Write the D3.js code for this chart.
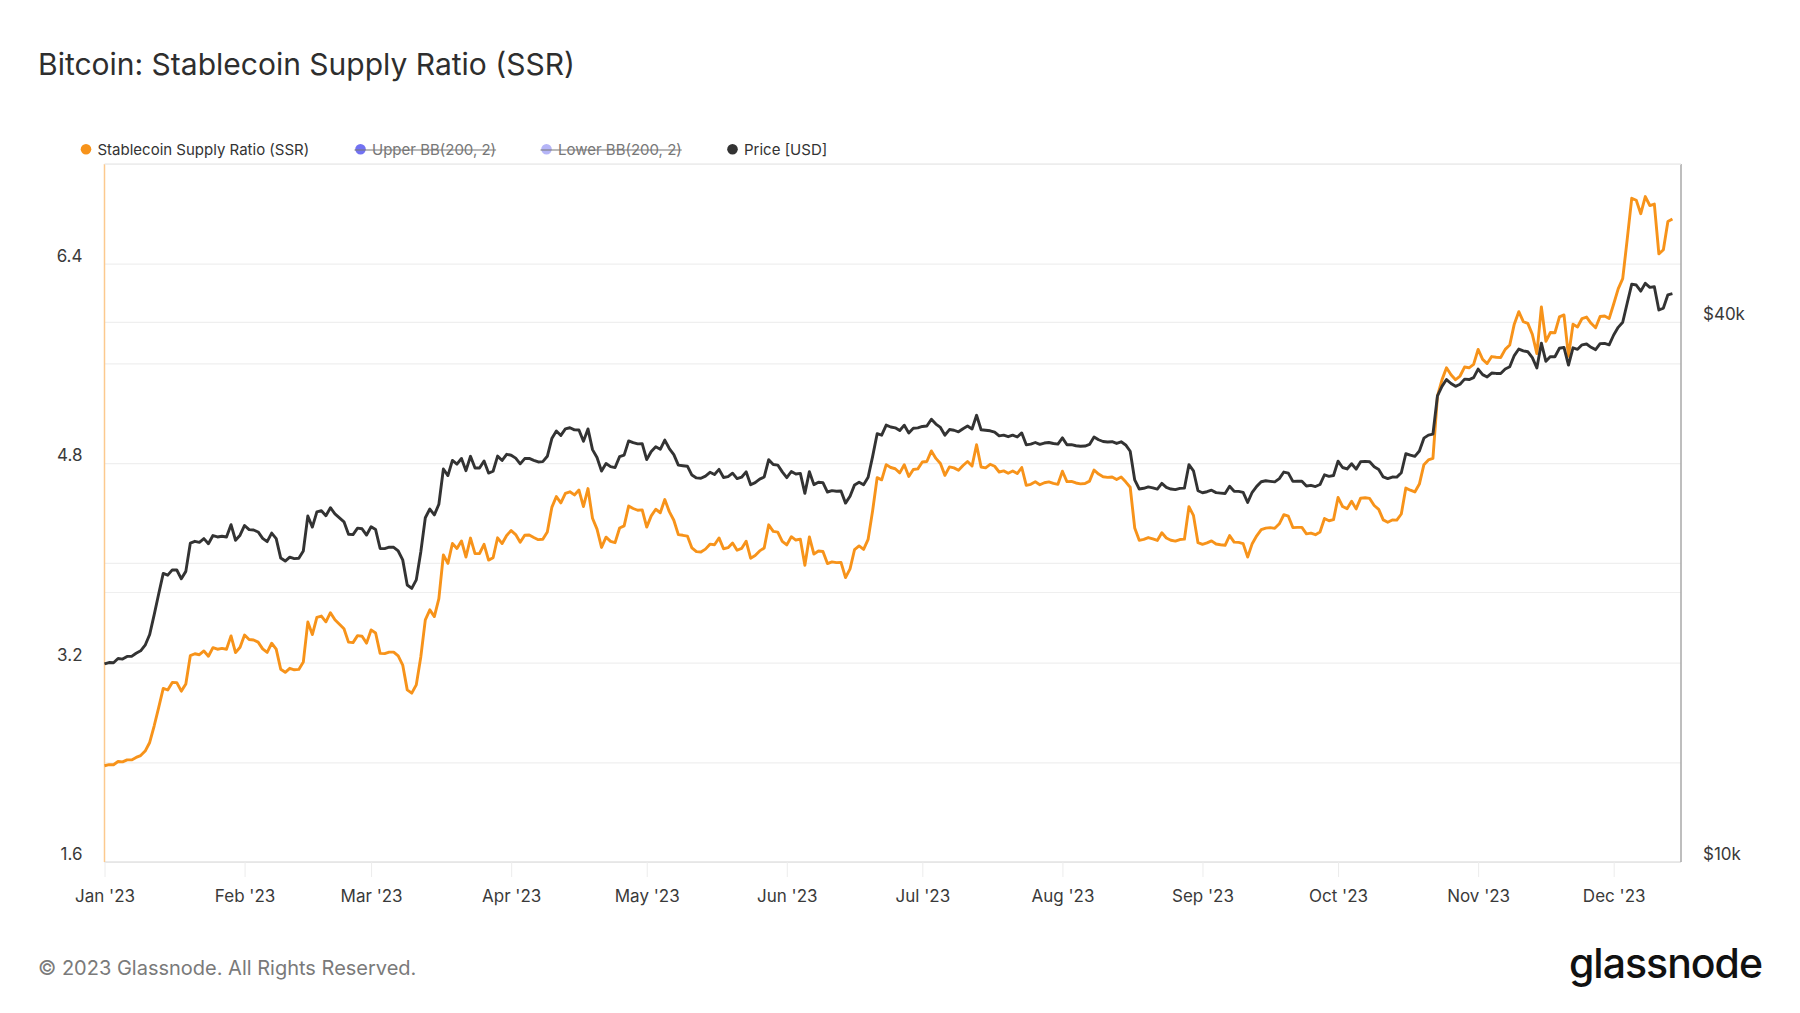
<!DOCTYPE html>
<html><head><meta charset="utf-8">
<script src="https://cdn.jsdelivr.net/npm/d3@7/dist/d3.min.js"></script>
<style>
body{margin:0;background:#fff;}
svg text{font-family:Inter,"Noto Sans",sans-serif;}
</style></head>
<body><svg id="chart" width="1800" height="1013"></svg>
<script>
const titleText = "Bitcoin: Stablecoin Supply Ratio (SSR)";
const footerText = "© 2023 Glassnode. All Rights Reserved.";
const startDate = "2023-01-01";
const ssrValues = [
2.372,2.381,2.380,2.406,2.403,2.419,2.419,2.439,2.454,2.490,2.559,2.693,2.841,2.993,2.980,3.040,3.039,2.971,3.028,3.256,3.271,3.263,3.293,3.251,3.320,3.307,3.314,3.307,3.414,3.280,3.323,
3.421,3.385,3.381,3.364,3.310,3.282,3.355,3.308,3.146,3.122,3.154,3.142,3.145,3.204,3.525,3.425,3.562,3.573,3.527,3.600,3.543,3.507,3.472,3.364,3.360,3.416,3.411,3.356,
3.462,3.437,3.274,3.272,3.284,3.284,3.253,3.180,2.981,2.955,3.021,3.245,3.542,3.623,3.569,3.713,4.064,3.996,4.155,4.115,4.176,4.047,4.199,4.074,4.075,4.149,4.022,4.041,4.201,4.155,4.220,
4.259,4.227,4.166,4.222,4.224,4.204,4.186,4.189,4.247,4.445,4.532,4.481,4.557,4.570,4.545,4.584,4.452,4.596,4.358,4.271,4.124,4.206,4.172,4.162,4.280,4.297,4.456,4.436,4.422,4.425,
4.287,4.377,4.430,4.402,4.508,4.411,4.342,4.226,4.221,4.215,4.120,4.090,4.087,4.110,4.150,4.145,4.200,4.113,4.122,4.159,4.101,4.116,4.174,4.037,4.059,4.096,4.119,4.305,4.253,4.247,4.173,
4.144,4.210,4.183,4.190,3.980,4.208,4.070,4.095,4.091,3.994,4.008,4.002,4.004,3.882,3.952,4.107,4.136,4.108,4.189,4.419,4.684,4.666,4.788,4.765,4.755,4.722,4.787,4.693,4.749,4.754,
4.809,4.813,4.898,4.838,4.797,4.702,4.770,4.762,4.743,4.781,4.813,4.777,4.948,4.769,4.762,4.791,4.775,4.729,4.738,4.719,4.737,4.716,4.765,4.622,4.630,4.650,4.627,4.643,4.650,4.638,4.630,
4.735,4.652,4.654,4.641,4.634,4.637,4.656,4.745,4.712,4.691,4.686,4.689,4.668,4.688,4.650,4.607,4.280,4.181,4.189,4.203,4.193,4.180,4.242,4.199,4.181,4.174,4.187,4.190,4.450,4.381,4.162,
4.149,4.160,4.176,4.151,4.145,4.141,4.219,4.166,4.164,4.154,4.046,4.154,4.217,4.267,4.279,4.283,4.277,4.313,4.386,4.374,4.283,4.285,4.285,4.233,4.239,4.226,4.248,4.356,4.338,4.347,
4.525,4.452,4.435,4.495,4.433,4.519,4.522,4.517,4.460,4.429,4.345,4.326,4.344,4.343,4.392,4.600,4.583,4.569,4.632,4.788,4.826,4.838,5.337,5.468,5.565,5.509,5.469,5.499,5.571,5.565,5.592,
5.712,5.632,5.599,5.655,5.650,5.648,5.713,5.748,5.915,6.015,5.935,5.921,5.833,5.679,6.053,5.777,5.848,5.846,5.974,5.989,5.658,5.914,5.892,5.960,5.972,5.922,5.886,5.977,5.981,5.960,
6.077,6.198,6.280,6.597,6.925,6.909,6.801,6.939,6.867,6.879,6.479,6.512,6.738,6.759
];
const priceValues = [
16625,16688,16680,16863,16836,16951,16955,17092,17196,17446,17934,18869,19909,20976,20881,21169,21161,20688,21086,22676,22777,22720,22934,22636,23117,23032,23078,23031,23774,22840,23139,
23723,23471,23449,23331,22955,22760,23264,22939,21819,21651,21870,21788,21808,22220,24307,23623,24565,24641,24327,24829,24436,24188,23947,23198,23175,23561,23522,23147,
23646,23475,22362,22353,22435,22429,22219,21718,20363,20187,20632,22163,24197,24746,24375,25052,27423,26965,28038,27767,28175,27307,28333,27493,27494,27994,27139,27268,28348,28033,28478,
28411,28199,27790,28168,28177,28044,27925,27947,28333,29653,30235,29892,30399,30485,30318,30315,29445,30397,28822,28245,27276,27817,27591,27525,28307,28422,29473,29340,29248,29268,
28091,28680,29031,28848,29538,28904,28454,27694,27658,27621,27000,26804,26784,26931,27192,27036,27398,26832,26890,27130,26753,26851,27225,26334,26477,26719,26868,28085,27745,27702,27219,
26819,27249,27075,27119,25760,27238,26345,26508,26480,25851,25940,25902,25918,25124,25576,26327,26510,26336,26851,28327,30027,29912,30695,30548,30480,30271,30689,30086,30445,30477,
30590,30620,31156,30777,30514,29909,30346,30292,30171,30414,30620,30391,31477,30334,30295,30249,30145,29856,29913,29792,29908,29771,30084,29177,29228,29354,29211,29315,29353,29281,29232,
29705,29186,29194,29113,29072,29088,29210,29769,29562,29430,29397,29415,29283,29409,29170,28702,26664,26050,26100,26189,26124,26041,26431,26163,26049,26009,26090,26107,27728,27298,25932,
25801,25869,25970,25812,25780,25753,26240,25905,25895,25832,25162,25833,26228,26539,26608,26568,26534,26754,27211,27132,26567,26580,26580,26256,26299,26217,26352,27021,26911,26967,
27983,27530,27429,27799,27415,27946,27968,27935,27584,27391,26873,26756,26862,26861,27159,28519,28415,28328,28719,29682,29918,29993,33086,33901,34502,34156,33909,34089,34538,34502,34667,
35437,34938,34732,35082,35049,35037,35443,35655,36693,37313,37138,37054,36502,35537,37880,36154,36596,36585,37386,37476,35813,37432,37289,37720,37796,37480,37254,37832,37854,37723,
38682,39450,39972,41991,44080,43977,43292,44170,43713,43789,41244,41450,42890,43023
];
const leftGridTicks = [1.6,2.4,3.2,4.0,4.8,5.6,6.4,7.2];
const leftLabelTicks = [1.6,3.2,4.8,6.4];
const rightGridTicks = [20000,40000];
const rightLabelTicks = [10000,40000];
const rightLabelText = ["$10k","$40k"];
const monthTicks = ["2023-01-01","2023-02-01","2023-03-01","2023-04-01","2023-05-01","2023-06-01","2023-07-01","2023-08-01","2023-09-01","2023-10-01","2023-11-01","2023-12-01"];
const legendNames = ["Stablecoin Supply Ratio (SSR)","Upper BB(200, 2)","Lower BB(200, 2)","Price [USD]"];
const legendColors = ["#F7931A","#7272F2","#B5B5F7","#333333"];
const legendHidden = [false,true,true,false];

const svg = d3.select("#chart");
const L = 104.5, R = 1681, T = 164, B = 862;
const day = 864e5;
const t0 = Date.parse(startDate + "T00:00:00Z");
const dates = ssrValues.map((_, i) => new Date(t0 + i * day));

const x = d3.scaleUtc().domain([new Date(t0), new Date(t0 + 348.9 * day)]).range([L, R]);
const yL = d3.scaleLinear().domain([1.6, 7.2]).range([B, T]);
const yR = d3.scaleLog().domain([10000, 60000]).range([B, T]);

// title
svg.append("text").attr("x", 38).attr("y", 75).attr("font-size", 30).attr("fill", "#2e2e2e").text(titleText);

// gridlines
const gl = svg.append("g").attr("transform", `translate(${L},0)`)
  .call(d3.axisLeft(yL).tickValues(leftGridTicks).tickSize(-(R - L)).tickFormat(""));
gl.select(".domain").remove();
gl.selectAll("line").attr("stroke", "#efefef").attr("stroke-width", 1.2);
const gr = svg.append("g").attr("transform", `translate(${L},0)`)
  .call(d3.axisLeft(yR).tickValues(rightGridTicks).tickSize(-(R - L)).tickFormat(""));
gr.select(".domain").remove();
gr.selectAll("line").attr("stroke", "#efefef").attr("stroke-width", 1.2);
svg.append("line").attr("x1", L).attr("x2", R).attr("y1", B).attr("y2", B).attr("stroke", "#e3e3e3").attr("stroke-width", 1.5);

// x axis
const xa = svg.append("g").attr("transform", `translate(0,${B})`)
  .call(d3.axisBottom(x).tickValues(monthTicks.map(d => new Date(d + "T00:00:00Z"))).tickSize(15).tickFormat(d3.utcFormat("%b '%y")));
xa.select(".domain").remove();
xa.selectAll("line").attr("stroke", "#ececec");
xa.selectAll("text").attr("font-size", 17).attr("fill", "#3a3a3a").attr("y", 40).attr("dy", 0)
  .style("font-family", "Inter, sans-serif");

// left axis labels
const la = svg.append("g").attr("transform", `translate(${L},0)`)
  .call(d3.axisLeft(yL).tickValues(leftLabelTicks).tickSize(0).tickPadding(22).tickFormat(d3.format(".1f")));
la.select(".domain").remove();
la.selectAll("text").attr("font-size", 17).attr("fill", "#3a3a3a").attr("dy", -2.5).style("font-family", "Inter, sans-serif");

// right axis labels
const ra = svg.append("g").attr("transform", `translate(${R},0)`)
  .call(d3.axisRight(yR).tickValues(rightLabelTicks).tickSize(0).tickPadding(22).tickFormat((d, i) => rightLabelText[i]));
ra.select(".domain").remove();
ra.selectAll("text").attr("font-size", 17).attr("fill", "#3a3a3a").attr("dy", -2.5).style("font-family", "Inter, sans-serif");

// axis lines
svg.append("line").attr("x1", L).attr("x2", L).attr("y1", T).attr("y2", B).attr("stroke", "#FCC98E").attr("stroke-width", 1.5);
svg.append("line").attr("x1", R).attr("x2", R).attr("y1", T).attr("y2", B).attr("stroke", "#a8a8a8").attr("stroke-width", 1.5);
svg.append("line").attr("x1", L).attr("x2", R).attr("y1", T).attr("y2", T).attr("stroke", "#ececec").attr("stroke-width", 1.5);

// lines
const ssrLine = d3.line().x((d, i) => x(dates[i])).y(d => yL(d));
const priceLine = d3.line().x((d, i) => x(dates[i])).y(d => yR(d));
svg.append("path").datum(ssrValues).attr("d", ssrLine).attr("fill", "none").attr("stroke", "#F7931A")
  .attr("stroke-width", 2.9).attr("stroke-linejoin", "round");
svg.append("path").datum(priceValues).attr("d", priceLine).attr("fill", "none").attr("stroke", "#333333")
  .attr("stroke-width", 2.9).attr("stroke-linejoin", "round");

// legend
const legX = [86, 360.5, 546.5, 732.5];
const lg = svg.append("g");
legendNames.forEach((name, i) => {
  const g = lg.append("g");
  const txt = g.append("text").attr("x", legX[i] + 11.5).attr("y", 154.5).attr("font-size", 15)
    .attr("fill", legendHidden[i] ? "#777" : "#333").text(name);
  g.append("circle").attr("cx", legX[i]).attr("cy", 149.3).attr("r", 5.3).attr("fill", legendColors[i]);
  if (legendHidden[i]) {
    const w = txt.node().getComputedTextLength();
    g.append("line").attr("x1", legX[i] - 6).attr("x2", legX[i] + 11.5 + w).attr("y1", 150).attr("y2", 150)
      .attr("stroke", "#777").attr("stroke-width", 1.2);
  }
});

// footer
svg.append("text").attr("x", 38).attr("y", 975).attr("font-size", 20).attr("fill", "#7a7a7a").text(footerText);
svg.append("text").attr("x", 1762).attr("y", 978).attr("text-anchor", "end").attr("font-size", 41)
  .attr("font-weight", 500).attr("fill", "#111").attr("letter-spacing", -1).text("glassnode");
</script>
</body></html>
